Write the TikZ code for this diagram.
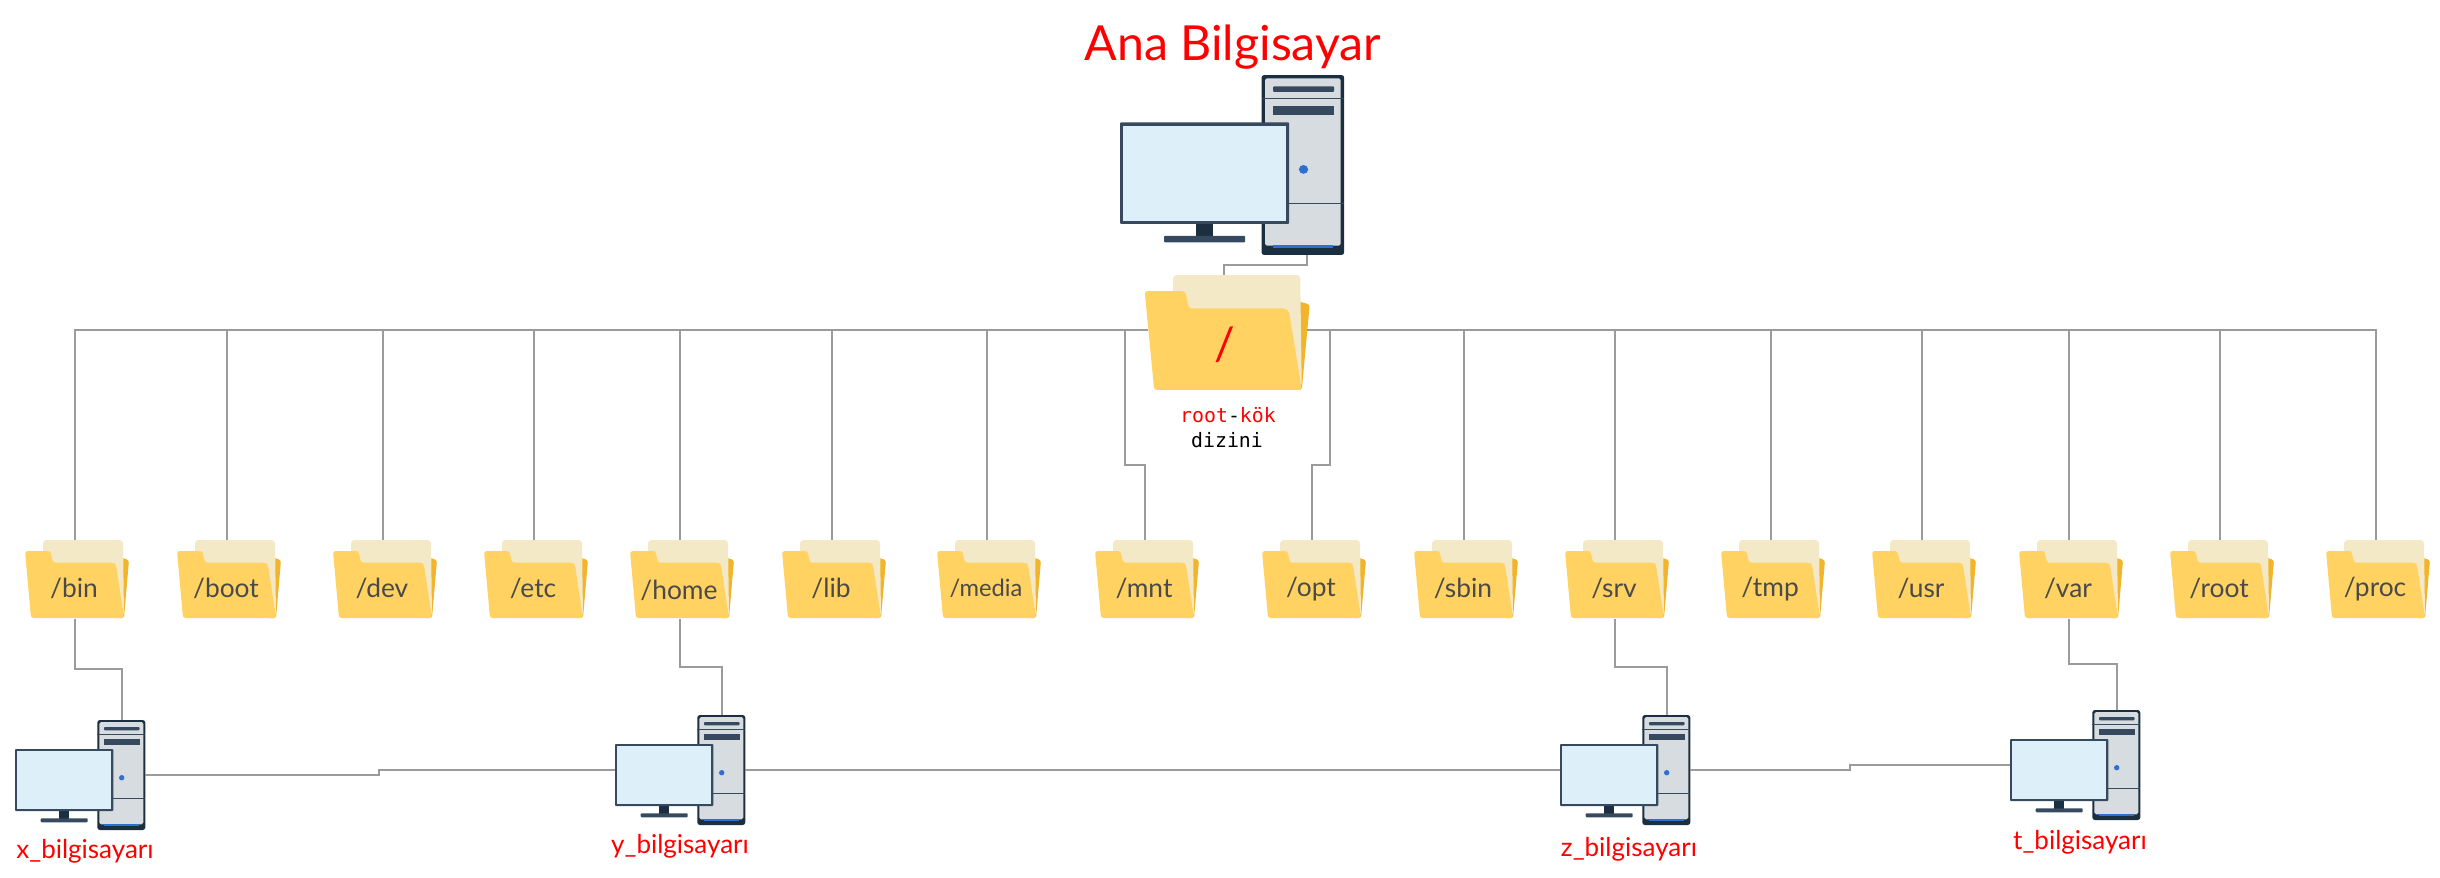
\documentclass[tikz,border=0pt]{standalone}
\usepackage{fontspec}
\setmainfont{Lato}
\setmonofont{DejaVu Sans Mono}
\usepackage{tikz}

\definecolor{folderfront}{HTML}{FFD261}
\definecolor{folderpaper}{HTML}{F3E9C7}
\definecolor{folderback}{HTML}{F1B42A}
\definecolor{pcdark}{HTML}{1B2F40}
\definecolor{pcbar}{HTML}{36495E}
\definecolor{pcbody}{HTML}{D7DCE0}
\definecolor{pcscreen}{HTML}{DDF0F9}
\definecolor{pcblue}{HTML}{2F6FD0}
\definecolor{wiregray}{HTML}{9B9B9B}
\definecolor{labelgray}{HTML}{4A4A4A}

\tikzset{
    wire/.style={draw=wiregray, line width=1pt},
    foldertext/.style={text=labelgray, font=\fontsize{15}{15}\selectfont},
    pcname/.style={text=red, anchor=base, font=\fontsize{14.8}{15}\selectfont},
    folder/.pic={
        % origin is where the wire meets the paper
        \fill[folderback, rounded corners=1.5pt] (44,17) -- (54,20) -- (49,78) -- (40,78) -- cycle;
        \fill[folderpaper, rounded corners=2pt] (-32,30) -- (-32,0) -- (48,0) -- (49,76) -- (20,76) -- cycle;
        \fill[folderfront, rounded corners=1.5pt] (-50,11) -- (-24.5,11) -- (-22,22.7) -- (39,22.7) -- (41,25) -- (49,78) -- (-44,78) -- cycle;
        \coordinate (-top) at (0,0);
        \coordinate (-bot) at (0,79);
        \coordinate (-left) at (-48,37.4);
        \coordinate (-right) at (52.6,37.4);
        \node[foldertext] (-label) at (-1,48.7) {/#1};
    },
    computer/.pic={
        % origin is left of the screen, level with the top of the tower
        \fill[pcdark, rounded corners=1.5pt] (82.3,0) rectangle (130.3,110); % tower
        \fill[pcbody, rounded corners=1pt] (84.3,2) rectangle (128.3,104.3);
        \fill[pcblue] (89,104) rectangle (124,105.6);
        \fill[pcbar, rounded corners=0.5pt] (89,7) rectangle (124.5,10.3);
        \fill[pcbar] (89,18.7) rectangle (124.5,24.7);
        \draw[pcbar, line width=0.4pt] (82.3,14.3) -- (130.3,14.3);
        \draw[pcbar, line width=0.4pt] (82.3,78.3) -- (130.3,78.3);
        \fill[pcblue] (106.7,57.7) ellipse (2.7 and 2.7);
        \fill[pcdark] (44,91) rectangle (54.3,99); % stand
        \fill[pcbar, rounded corners=0.5pt] (25.7,98.3) rectangle (72.7,102.3);
        \fill[pcbar, rounded corners=0.5pt] (0,29) rectangle (98.3,91); % screen
        \fill[pcscreen] (2,31) rectangle (96.3,89);
        \coordinate (-top) at (107,0);
        \coordinate (-bot) at (108.5,110);
        \coordinate (-left) at (0,55);
        \coordinate (-right) at (130.3,55);
    },
}

\begin{document}
\begin{tikzpicture}[x=0.02cm, y=-0.02cm]
    \useasboundingbox (0,0) rectangle (2440,877);

    \node[text=red, anchor=base, font=\fontsize{27.5}{28}\selectfont] (title) at (1233,60) {Ana Bilgisayar};

    \pic[xscale=1.72, yscale=1.636] (anapc) at (1120,75) {computer};
    \pic[xscale=1.587, yscale=1.474, foldertext/.append style={text=red, xshift=1.5pt, yshift=1pt, font=\fontsize{26}{26}\selectfont}] (kok) at (1224,275) {folder={}};

    \node[anchor=base, font=\ttfamily\fontsize{11.3}{11}\selectfont] (kokname) at (1228,422) {\textcolor{red}{root}-\textcolor{red}{kök}};
    \node[anchor=base, font=\ttfamily\fontsize{11.3}{11}\selectfont] (kokname2) at (1227,447) {dizini};

    \pic (bin) at (75,540) {folder=bin};
    \pic (boot) at (227,540) {folder=boot};
    \pic (dev) at (383,540) {folder=dev};
    \pic (etc) at (534,540) {folder=etc};
    \pic[foldertext/.append style={yshift=-1pt}] (home) at (680,540) {folder=home};
    \pic (lib) at (832,540) {folder=lib};
    \pic[foldertext/.append style={font=\fontsize{13.5}{14}\selectfont}] (media) at (987,540) {folder=media};
    \pic (mnt) at (1145,540) {folder=mnt};
    \pic (opt) at (1312,540) {folder=opt};
    \pic (sbin) at (1464,540) {folder=sbin};
    \pic (srv) at (1615,540) {folder=srv};
    \pic (tmp) at (1771,540) {folder=tmp};
    \pic (usr) at (1922,540) {folder=usr};
    \pic (var) at (2069,540) {folder=var};
    \pic (root) at (2220,540) {folder=root};
    \pic (proc) at (2376,540) {folder=proc};

    \pic (xpc) at (15,720) {computer};
    \pic (ypc) at (615,715) {computer};
    \pic (zpc) at (1560,715) {computer};
    \pic (tpc) at (2010,710) {computer};

    \node[pcname] (xname) at (85,858) {x\_bilgisayarı};
    \node[pcname] (yname) at (680,853) {y\_bilgisayarı};
    \node[pcname] (zname) at (1629,856) {z\_bilgisayarı};
    \node[pcname] (tname) at (2080,849) {t\_bilgisayarı};

    \coordinate (mntjog) at (1125,465);
    \coordinate (optjog) at (1330,465);

    % main computer to root folder
    \draw[wire] (anapc-bot) -- ++(0,10) -| (kok-top);

    % left of the root folder
    \draw[wire] (bin-top) |- (kok-left);
    \draw[wire] (boot-top) -- (boot-top |- kok-left);
    \draw[wire] (dev-top) -- (dev-top |- kok-left);
    \draw[wire] (etc-top) -- (etc-top |- kok-left);
    \draw[wire] (home-top) -- (home-top |- kok-left);
    \draw[wire] (lib-top) -- (lib-top |- kok-left);
    \draw[wire] (media-top) -- (media-top |- kok-left);
    \draw[wire] (mnt-top) |- (mntjog) -- (mntjog |- kok-left);

    % right of the root folder
    \draw[wire] (proc-top) |- (kok-right);
    \draw[wire] (opt-top) |- (optjog) -- (optjog |- kok-right);
    \draw[wire] (sbin-top) -- (sbin-top |- kok-right);
    \draw[wire] (srv-top) -- (srv-top |- kok-right);
    \draw[wire] (tmp-top) -- (tmp-top |- kok-right);
    \draw[wire] (usr-top) -- (usr-top |- kok-right);
    \draw[wire] (var-top) -- (var-top |- kok-right);
    \draw[wire] (root-top) -- (root-top |- kok-right);

    % folders to computers
    \draw[wire] (bin-bot) -- ++(0,50) -| (xpc-top);
    \draw[wire] (home-bot) -- ++(0,48) -| (ypc-top);
    \draw[wire] (srv-bot) -- ++(0,48) -| (zpc-top);
    \draw[wire] (var-bot) -- ++(0,45) -| (tpc-top);

    % computers
    \draw[wire] (xpc-right) -| ++(234,-5) -- (ypc-left);
    \draw[wire] (ypc-right) -- (zpc-left);
    \draw[wire] (zpc-right) -| ++(160,-5) -- (tpc-left);
\end{tikzpicture}
\end{document}
